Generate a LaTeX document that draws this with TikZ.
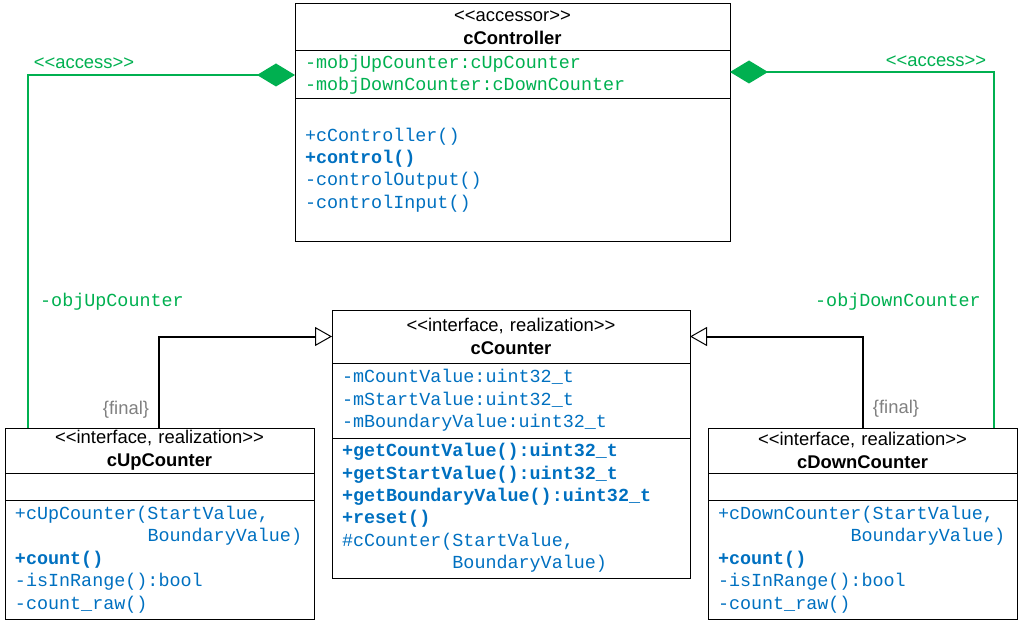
\documentclass[tikz,border=0pt]{standalone}
\usepackage{fontspec}
\usepackage{tikz}
\usetikzlibrary{arrows.meta,positioning}
\newfontfamily\umlsans{Liberation Sans}
\newfontfamily\umlmono{Liberation Mono}
\definecolor{umlgreen}{RGB}{0,176,80}
\definecolor{umlblue}{RGB}{0,112,192}
\definecolor{umlgray}{RGB}{128,128,128}
\newcommand\umlhead{\umlsans\fontsize{18.4}{23}\selectfont}
\newcommand\umlcode{\umlmono\fontsize{18.4}{22.4}\selectfont}
\newcommand\pad[1]{\hspace*{#1\fontcharwd\font`\x}}
\tikzstyle{classpart} = [rectangle, draw=black, line width=1pt, outer sep=0pt, inner xsep=10pt, inner ysep=0pt]
\tikzstyle{classhead} = [classpart, align=center, font=\umlhead]
\tikzstyle{classbody} = [classpart, align=left, font=\umlcode, text=umlblue]
\tikzstyle{access} = [line width=2pt, draw=umlgreen, {Diamond[length=38pt,width=23pt]}-]
\tikzstyle{realize} = [line width=2pt, -{Triangle[open,length=17pt,width=19pt,line width=1pt]}]

\begin{document}
\begin{tikzpicture}[x=1pt, y=-1pt]
\useasboundingbox (0,0) rectangle (1021,623);

% Controller class
\node[classhead, text width=415pt, minimum height=47pt, anchor=north west] (ctrlHead) at (295,4) {<<accessor>>\\\textbf{cController}};
\node[classbody, text width=415pt, minimum height=48pt, below=0pt of ctrlHead, text=umlgreen] (ctrlAttr) {-mobjUpCounter:cUpCounter\\-mobjDownCounter:cDownCounter};
\node[classbody, text width=415pt, minimum height=142pt, below=0pt of ctrlAttr] (ctrlOps) {+cController()\\\textbf{+control()}\\-controlOutput()\\-controlInput()};

% Counter base class
\node[classhead, text width=338pt, minimum height=53pt, anchor=north west] (cntHead) at (332,310) {<<interface, realization>>\\\textbf{cCounter}};
\node[classbody, text width=338pt, minimum height=75pt, below=0pt of cntHead] (cntAttr) {-mCountValue:uint32\_t\\-mStartValue:uint32\_t\\-mBoundaryValue:uint32\_t};
\node[classbody, text width=338pt, minimum height=140pt, below=0pt of cntAttr] (cntOps) {\textbf{+getCountValue():uint32\_t}\\\textbf{+getStartValue():uint32\_t}\\\textbf{+getBoundaryValue():uint32\_t}\\\textbf{+reset()}\\\#cCounter(StartValue,\\\pad{10}BoundaryValue)};

% Up counter
\node[classhead, text width=289pt, minimum height=45pt, anchor=north west] (upHead) at (5,428) {<<interface, realization>>\\\textbf{cUpCounter}};
\node[classbody, text width=289pt, minimum height=27pt, below=0pt of upHead] (upAttr) {};
\node[classbody, text width=289pt, minimum height=119pt, below=0pt of upAttr] (upOps) {+cUpCounter(StartValue,\\\pad{12}BoundaryValue)\\\textbf{+count()}\\-isInRange():bool\\-count\_raw()};

% Down counter
\node[classhead, text width=289pt, minimum height=45pt, anchor=north west] (downHead) at (708,428) {<<interface, realization>>\\\textbf{cDownCounter}};
\node[classbody, text width=289pt, minimum height=27pt, below=0pt of downHead] (downAttr) {};
\node[classbody, text width=289pt, minimum height=119pt, below=0pt of downAttr] (downOps) {+cDownCounter(StartValue,\\\pad{12}BoundaryValue)\\\textbf{+count()}\\-isInRange():bool\\-count\_raw()};

% Compositions
\draw[access] (ctrlAttr.west) -| ([xshift=23pt]upHead.north west);
\draw[access] ([yshift=3pt]ctrlAttr.east) -| ([xshift=-23pt]downHead.north east);
\node[font=\umlhead, text=umlgreen] (accL) at (84,63) {<<access>>};
\node[font=\umlhead, text=umlgreen] (accR) at (936,61) {<<access>>};
\node[font=\umlcode, text=umlgreen, anchor=west, inner sep=0pt] (roleUp) at (40,302) {-objUpCounter};
\node[font=\umlcode, text=umlgreen, anchor=east, inner sep=0pt] (roleDown) at (981,302) {-objDownCounter};

% Realizations
\draw[realize] ([xshift=154pt]upHead.north west) |- (cntHead.west);
\draw[realize] ([xshift=-154pt]downHead.north east) |- (cntHead.east);
\node[font=\umlhead, text=umlgray] (finUp) at (126,410) {\{final\}};
\node[font=\umlhead, text=umlgray] (finDown) at (896,409) {\{final\}};
\end{tikzpicture}
\end{document}
